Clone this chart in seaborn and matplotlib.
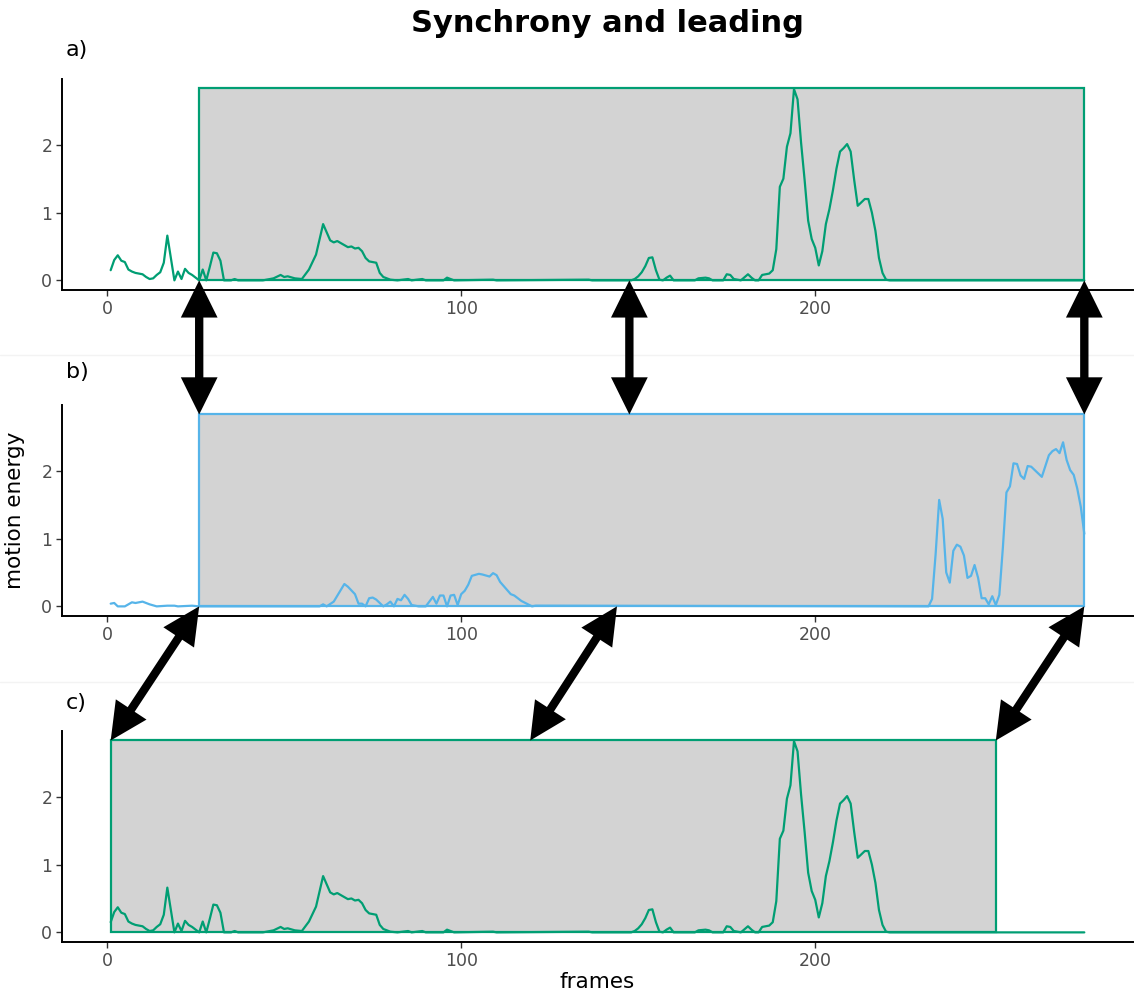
import numpy as np
import pandas as pd
import matplotlib
matplotlib.use("Agg")
import matplotlib.pyplot as plt
import seaborn as sns
from matplotlib.patches import Rectangle, ConnectionPatch, ArrowStyle
from matplotlib.lines import Line2D

# person 1 (green) - used in panels a and c
frames_a = [1, 2, 3, 4, 5, 6, 7, 8, 9, 10, 11, 12, 13, 14, 15, 16, 17, 18, 19, 20,
            21, 22, 23, 24, 25, 26, 27, 28, 29, 30, 31, 32, 33, 35, 36, 37, 44, 45, 47, 49,
            50, 51, 53, 55, 57, 59, 61, 63, 64, 65, 66, 68, 69, 70, 71, 72, 73, 74, 76, 77,
            78, 80, 82, 85, 86, 89, 90, 95, 96, 97, 98, 109, 110, 136, 137, 148, 149, 150, 151, 152,
            153, 154, 155, 156, 157, 158, 159, 160, 166, 167, 169, 170, 171, 174, 175, 176, 177, 179, 181, 182,
            183, 184, 185, 187, 188, 189, 190, 191, 192, 193, 194, 195, 196, 197, 198, 199, 200, 201, 202, 203,
            204, 205, 206, 207, 208, 209, 210, 211, 212, 213, 214, 215, 216, 217, 218, 219, 220, 221, 276]
energy_a = [0.15, 0.30, 0.37, 0.29, 0.27, 0.16, 0.13, 0.11, 0.10, 0.09, 0.05, 0.02, 0.03, 0.08, 0.12, 0.26, 0.66, 0.33, 0.0, 0.13,
            0.02, 0.17, 0.11, 0.08, 0.04, 0.0, 0.16, 0.0, 0.20, 0.41, 0.40, 0.29, 0.0, 0.0, 0.02, 0.0, 0.0, 0.01, 0.03, 0.08,
            0.05, 0.06, 0.03, 0.02, 0.16, 0.38, 0.83, 0.59, 0.56, 0.58, 0.55, 0.49, 0.50, 0.47, 0.48, 0.43, 0.33, 0.28, 0.26, 0.11,
            0.05, 0.01, 0.0, 0.02, 0.0, 0.02, 0.0, 0.0, 0.04, 0.02, 0.0, 0.01, 0.0, 0.01, 0.0, 0.0, 0.02, 0.06, 0.12, 0.21,
            0.33, 0.34, 0.15, 0.01, 0.0, 0.04, 0.07, 0.0, 0.0, 0.03, 0.04, 0.03, 0.0, 0.0, 0.09, 0.08, 0.02, 0.0, 0.09, 0.04,
            0.0, 0.0, 0.08, 0.10, 0.15, 0.46, 1.38, 1.50, 1.97, 2.17, 2.82, 2.67, 2.03, 1.48, 0.88, 0.61, 0.48, 0.22, 0.43, 0.83,
            1.05, 1.33, 1.65, 1.90, 1.95, 2.01, 1.90, 1.48, 1.10, 1.15, 1.20, 1.20, 1.00, 0.73, 0.33, 0.11, 0.01, 0.0, 0.0]

# person 2 (blue) - panel b
frames_b = [1, 2, 3, 5, 7, 8, 10, 12, 14, 17, 19, 20, 24, 26, 60, 61, 62, 64, 67, 68,
            70, 71, 72, 73, 74, 75, 76, 78, 79, 80, 81, 82, 83, 84, 85, 86, 88, 90, 92, 93,
            94, 95, 96, 97, 98, 99, 100, 101, 102, 103, 105, 106, 108, 109, 110, 111, 112, 114, 115, 117,
            120, 121, 232, 233, 234, 235, 236, 237, 238, 239, 240, 241, 242, 243, 244, 245, 246, 247, 248, 249,
            250, 251, 252, 253, 254, 255, 256, 257, 258, 259, 260, 261, 262, 264, 265, 266, 267, 268, 269, 270,
            271, 272, 273, 274, 275, 276]
energy_b = [0.04, 0.05, 0.0, 0.0, 0.06, 0.05, 0.07, 0.03, 0.0, 0.01, 0.01, 0.0, 0.01, 0.0, 0.0, 0.03, 0.0, 0.07, 0.33, 0.29,
            0.18, 0.04, 0.04, 0.0, 0.12, 0.13, 0.10, 0.0, 0.03, 0.07, 0.0, 0.11, 0.09, 0.17, 0.11, 0.02, 0.0, 0.0, 0.14, 0.04,
            0.16, 0.16, 0.0, 0.16, 0.17, 0.02, 0.18, 0.23, 0.32, 0.45, 0.48, 0.47, 0.44, 0.49, 0.46, 0.36, 0.30, 0.18, 0.16, 0.08,
            0.0, 0.01, 0.0, 0.11, 0.77, 1.57, 1.29, 0.50, 0.35, 0.82, 0.91, 0.88, 0.75, 0.42, 0.45, 0.61, 0.42, 0.12, 0.12, 0.03,
            0.15, 0.02, 0.17, 0.87, 1.68, 1.77, 2.11, 2.10, 1.93, 1.88, 2.07, 2.06, 2.01, 1.91, 2.07, 2.23, 2.29, 2.32, 2.26, 2.42,
            2.16, 2.01, 1.94, 1.74, 1.47, 1.07]

panel_labels = ["a)", "b)", "c)"]
rect_ranges = [(26, 276), (26, 276), (1, 251)]
rect_top = 2.83
arrows_ab = [(26, 26), (147.5, 147.5), (276, 276)]
arrows_bc = [(26, 1), (144, 119.5), (276, 251)]

green = "#009E73"
blue = "#56B4E9"

df_a = pd.DataFrame({"frame": frames_a, "energy": energy_a})
df_b = pd.DataFrame({"frame": frames_b, "energy": energy_b})

sns.set_theme(style="ticks")
plt.rcParams["font.family"] = ["DejaVu Sans"]
plt.rcParams["text.color"] = "black"
plt.rcParams["axes.labelcolor"] = "black"

fig = plt.figure(figsize=(11.34, 9.94), dpi=100)
W, H = 1134, 994
axes = []
for top_px in [79, 405, 731]:
    ax = fig.add_axes([62 / W, 1 - (top_px + 211) / H, 1071 / W, 211 / H])
    axes.append(ax)

panels = [(df_a, green), (df_b, blue), (df_a, green)]
for ax, (d, col), (x0, x1) in zip(axes, panels, rect_ranges):
    ax.add_patch(Rectangle((x0, 0), x1 - x0, rect_top, facecolor="#D3D3D3",
                           edgecolor=col, lw=1.6, zorder=1))
    sns.lineplot(data=d, x="frame", y="energy", ax=ax, color=col, lw=1.6, zorder=2)
    ax.set_xlim(-12.75, 289.75)
    ax.set_ylim(-0.142, 2.97)
    ax.set_xticks([0, 100, 200])
    ax.set_yticks([0, 1, 2])
    ax.set_xlabel("")
    ax.set_ylabel("")
    ax.tick_params(axis="both", labelsize=12.5, labelcolor="#4D4D4D", color="#333333",
                   length=4, width=1, pad=3)
    sns.despine(ax=ax)
    for s in ["left", "bottom"]:
        ax.spines[s].set_linewidth(1.4)
        ax.spines[s].set_color("black")
    ax.set_facecolor("white")

for lab, y_px in zip(panel_labels, [50, 372, 703]):
    fig.text(66 / W, 1 - y_px / H, lab, fontsize=16, ha="left", va="center", color="black")

fig.text(607 / W, 1 - 23 / H, "Synchrony and leading", fontsize=22, fontweight="bold",
         ha="center", va="center", color="black")
axes[1].set_ylabel("motion energy", fontsize=15.5, labelpad=12, color="black")
axes[2].set_xlabel("frames", fontsize=15.5, labelpad=2, color="black")

# faint separators between stacked panels
for y_px in [355, 682]:
    fig.add_artist(Line2D([0, 1], [1 - y_px / H, 1 - y_px / H], color="#f3f3f3", lw=1))

style = ArrowStyle("<|-|>", head_length=0.85, head_width=0.42)
pairs = [(axes[0], axes[1], arrows_ab), (axes[1], axes[2], arrows_bc)]
for ax_from, ax_to, pts in pairs:
    for xa, xb in pts:
        con = ConnectionPatch(xyA=(xa, 0), coordsA=ax_from.transData,
                              xyB=(xb, rect_top), coordsB=ax_to.transData,
                              arrowstyle=style, mutation_scale=20, lw=6, color="black",
                              shrinkA=0, shrinkB=0, zorder=10,
                              joinstyle="miter", capstyle="butt")
        fig.add_artist(con)

fig.savefig("out.png", dpi=100)
